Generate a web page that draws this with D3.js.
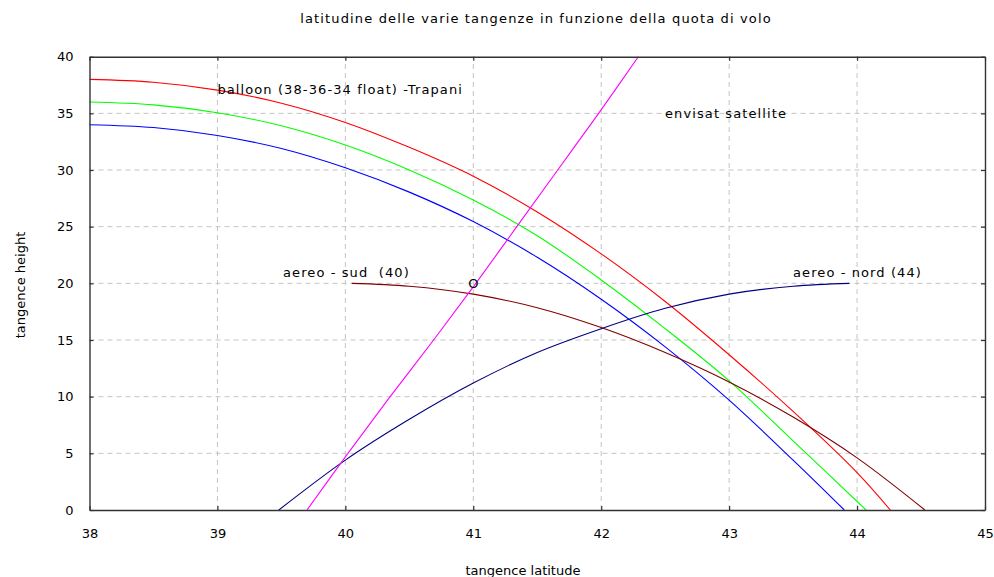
<!DOCTYPE html>
<html>
<head>
<meta charset="utf-8">
<script src="https://cdn.jsdelivr.net/npm/d3@7"></script>
<style>
  html, body { margin: 0; padding: 0; background: #fff; }
  svg { display: block; }
  text { font-family: "DejaVu Sans", sans-serif; fill: #000; }
</style>
</head>
<body>
<svg id="chart" width="994" height="577"></svg>
<script>
// Balloon curves (float altitude 38, 36, 34 km over Trapani)
const balloon38Lat = [38, 38.5, 39, 39.5, 40, 40.5, 41, 41.5, 42, 42.5, 43, 43.5, 44, 44.26];
const balloon38H   = [38.0, 37.75, 37.05, 35.9, 34.2, 32.0, 29.45, 26.3, 22.6, 18.4, 13.7, 8.7, 3.3, 0];
const balloon36Lat = [38, 38.5, 39, 39.5, 40, 40.5, 41, 41.5, 42, 42.5, 43, 43.5, 44.07];
const balloon36H   = [36.0, 35.75, 35.05, 33.9, 32.2, 30.0, 27.35, 24.2, 20.3, 16.0, 11.4, 6.1, 0];
const balloon34Lat = [38, 38.5, 39, 39.5, 40, 40.5, 41, 41.5, 42, 42.5, 43, 43.5, 43.9];
const balloon34H   = [34.0, 33.75, 33.05, 31.9, 30.2, 28.05, 25.45, 22.3, 18.6, 14.4, 9.7, 4.4, 0];
// Aircraft south (40) and north (44)
const sudLat  = [40.05, 40.5, 41, 41.5, 42, 42.5, 43, 43.5, 44, 44.53];
const sudH    = [20.0, 19.75, 19.05, 17.85, 16.1, 13.9, 11.3, 8.2, 4.6, 0];
const nordLat = [39.48, 40, 40.5, 41, 41.5, 42, 42.5, 43, 43.5, 43.94];
const nordH   = [0, 4.4, 8.0, 11.2, 13.9, 16.0, 17.8, 19.05, 19.75, 20.0];
// Envisat satellite line of sight
const envisatLat = [39.70, 40.02, 40.35, 40.69, 41.02, 41.34, 41.66, 41.98, 42.29];
const envisatH   = [0, 5, 10, 15, 20, 25, 30, 35, 40];

const xTicks = [38, 39, 40, 41, 42, 43, 44, 45];
const yTicks = [0, 5, 10, 15, 20, 25, 30, 35, 40];

const series = [
  { lat: balloon38Lat, h: balloon38H, color: "#ff0000" },
  { lat: balloon36Lat, h: balloon36H, color: "#00ff00" },
  { lat: balloon34Lat, h: balloon34H, color: "#0000ff" },
  { lat: sudLat, h: sudH, color: "#800000" },
  { lat: nordLat, h: nordH, color: "#000080" },
  { lat: envisatLat, h: envisatH, color: "#ff00ff" }
];

const svg = d3.select("#chart");
const x = d3.scaleLinear().domain([38, 45]).range([89.5, 985]);
const y = d3.scaleLinear().domain([0, 40]).range([510, 56.7]);

// grid
const grid = svg.append("g").attr("stroke", "#c4c4c4").attr("stroke-dasharray", "5,4").attr("stroke-width", 1);
xTicks.slice(1, -1).forEach(v => grid.append("line")
  .attr("x1", x(v)).attr("x2", x(v)).attr("y1", y(0)).attr("y2", y(40)));
yTicks.slice(1, -1).forEach(v => grid.append("line")
  .attr("x1", x(38)).attr("x2", x(45)).attr("y1", y(v)).attr("y2", y(v)));

// curves
const line = d3.line().x(d => x(d[0])).y(d => y(d[1])).curve(d3.curveCatmullRom.alpha(0.5));
const plot = svg.append("g");
series.forEach(s => {
  plot.append("path")
    .datum(s.lat.map((v, i) => [v, s.h[i]]))
    .attr("d", line)
    .attr("fill", "none")
    .attr("stroke", s.color)
    .attr("stroke-width", 1.1);
});

// axes with inward ticks on all four sides
const axisStyle = g => {
  g.select(".domain").attr("stroke", "#333").attr("stroke-width", 1.4);
  g.selectAll(".tick line").attr("stroke", "#333").attr("stroke-width", 1.2);
  g.selectAll(".tick text").style("font-family", "DejaVu Sans").style("font-size", "13px").attr("fill", "#000");
};
svg.append("g").attr("transform", `translate(0,${y(0)})`)
  .call(d3.axisBottom(x).tickValues(xTicks).tickFormat(d3.format("d")).tickSizeInner(-4).tickSizeOuter(0).tickPadding(19))
  .call(axisStyle);
svg.append("g").attr("transform", `translate(0,${y(40)})`)
  .call(d3.axisTop(x).tickValues(xTicks).tickFormat("").tickSizeInner(-4).tickSizeOuter(0))
  .call(axisStyle);
svg.append("g").attr("transform", `translate(${x(38)},0)`)
  .call(d3.axisLeft(y).tickValues(yTicks).tickFormat(d3.format("d")).tickSizeInner(-4).tickSizeOuter(0).tickPadding(16))
  .call(axisStyle);
svg.append("g").attr("transform", `translate(${x(45)},0)`)
  .call(d3.axisRight(y).tickValues(yTicks).tickFormat("").tickSizeInner(-4).tickSizeOuter(0))
  .call(axisStyle);

// titles
svg.append("text").attr("x", 536).attr("y", 23).attr("text-anchor", "middle")
  .style("font-size", "13px").style("letter-spacing", "1.15px")
  .text("latitudine delle varie tangenze in funzione della quota di volo");
svg.append("text").attr("x", 523).attr("y", 575).attr("text-anchor", "middle")
  .style("font-size", "13px")
  .text("tangence latitude");
svg.append("text").attr("transform", "translate(25,285) rotate(-90)").attr("text-anchor", "middle")
  .style("font-size", "13px")
  .text("tangence height");

// annotations
const noteStyle = t => t.style("font-size", "13px").style("letter-spacing", "1.1px").style("white-space", "pre");
svg.append("text").attr("x", x(39.0)).attr("y", 94).call(noteStyle)
  .text("balloon (38-36-34 float) -Trapani");
svg.append("text").attr("x", 665).attr("y", 118).call(noteStyle)
  .text("envisat satellite");
svg.append("text").attr("x", 283).attr("y", 277).call(noteStyle)
  .text("aereo - sud  (40)");
svg.append("text").attr("x", 793).attr("y", 277).call(noteStyle)
  .text("aereo - nord (44)");
// marker at latitude 41, 20 km
svg.append("text").attr("x", x(41)).attr("y", y(20)).attr("text-anchor", "middle")
  .attr("dominant-baseline", "central").style("font-size", "13px").text("O");
</script>
</body>
</html>
